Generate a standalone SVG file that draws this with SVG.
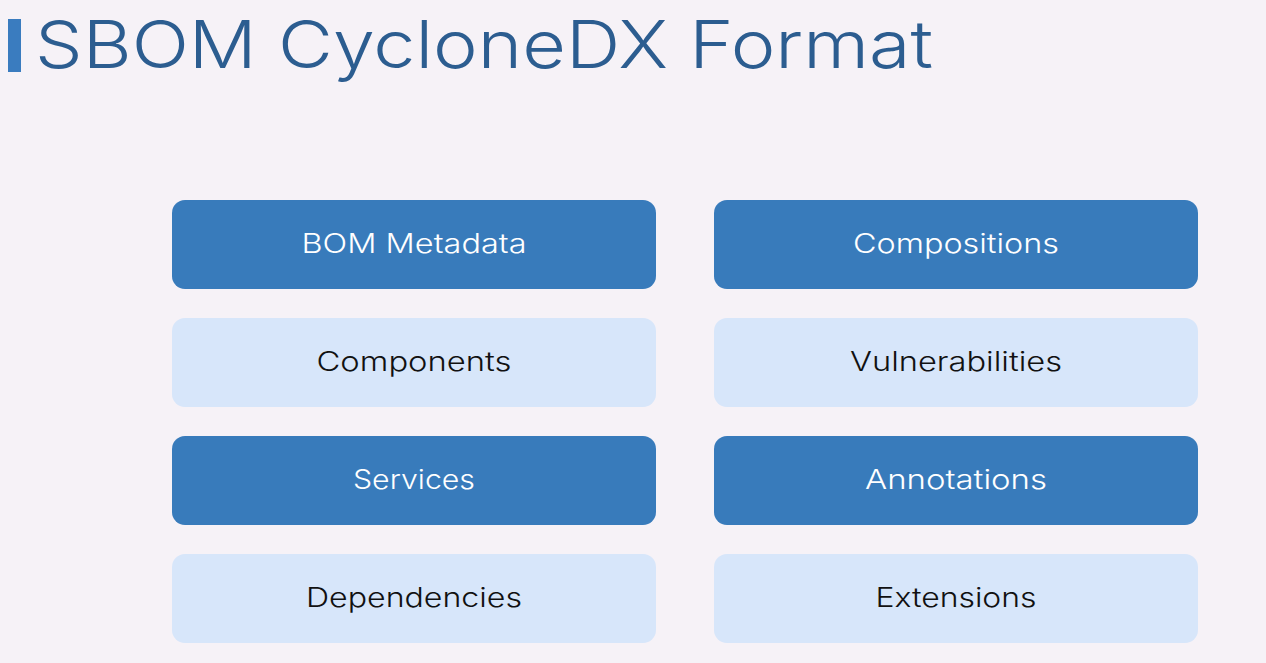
<svg xmlns="http://www.w3.org/2000/svg" width="1266" height="663" viewBox="0 0 1266 663">
<style>
.dark rect{fill:#387bbb}
.light rect{fill:#d7e6fa}
.dark text{fill:#ffffff}
.light text{fill:#111111}
text.lbl{font-family:Inter,"Open Sans",sans-serif;font-size:27px;font-weight:300;text-anchor:middle;dominant-baseline:central}
</style>
<rect width="1266" height="663" fill="#f6f2f7"/>
<g id="title">
<rect x="8" y="19" width="13" height="53" fill="#3a7cbf"/>
<text x="35" y="68" font-family="Inter,'Open Sans',sans-serif" font-size="66" font-weight="300" fill="#2c5d90" textLength="898" lengthAdjust="spacingAndGlyphs">SBOM CycloneDX Format</text>
</g>
<g id="bom-metadata" class="dark"><rect x="172" y="200" width="484" height="89" rx="13"/><text class="lbl" x="414" y="243" textLength="225" lengthAdjust="spacingAndGlyphs">BOM Metadata</text></g>
<g id="components" class="light"><rect x="172" y="318" width="484" height="89" rx="13"/><text class="lbl" x="414" y="361" textLength="195" lengthAdjust="spacingAndGlyphs">Components</text></g>
<g id="services" class="dark"><rect x="172" y="436" width="484" height="89" rx="13"/><text class="lbl" x="414" y="479" textLength="122" lengthAdjust="spacingAndGlyphs">Services</text></g>
<g id="dependencies" class="light"><rect x="172" y="554" width="484" height="89" rx="13"/><text class="lbl" x="414" y="597" textLength="216" lengthAdjust="spacingAndGlyphs">Dependencies</text></g>
<g id="compositions" class="dark"><rect x="714" y="200" width="484" height="89" rx="13"/><text class="lbl" x="956" y="243" textLength="206" lengthAdjust="spacingAndGlyphs">Compositions</text></g>
<g id="vulnerabilities" class="light"><rect x="714" y="318" width="484" height="89" rx="13"/><text class="lbl" x="956" y="361" textLength="212" lengthAdjust="spacingAndGlyphs">Vulnerabilities</text></g>
<g id="annotations" class="dark"><rect x="714" y="436" width="484" height="89" rx="13"/><text class="lbl" x="956" y="479" textLength="182" lengthAdjust="spacingAndGlyphs">Annotations</text></g>
<g id="extensions" class="light"><rect x="714" y="554" width="484" height="89" rx="13"/><text class="lbl" x="956" y="597" textLength="161" lengthAdjust="spacingAndGlyphs">Extensions</text></g>
<g id="connectors"/>
</svg>
